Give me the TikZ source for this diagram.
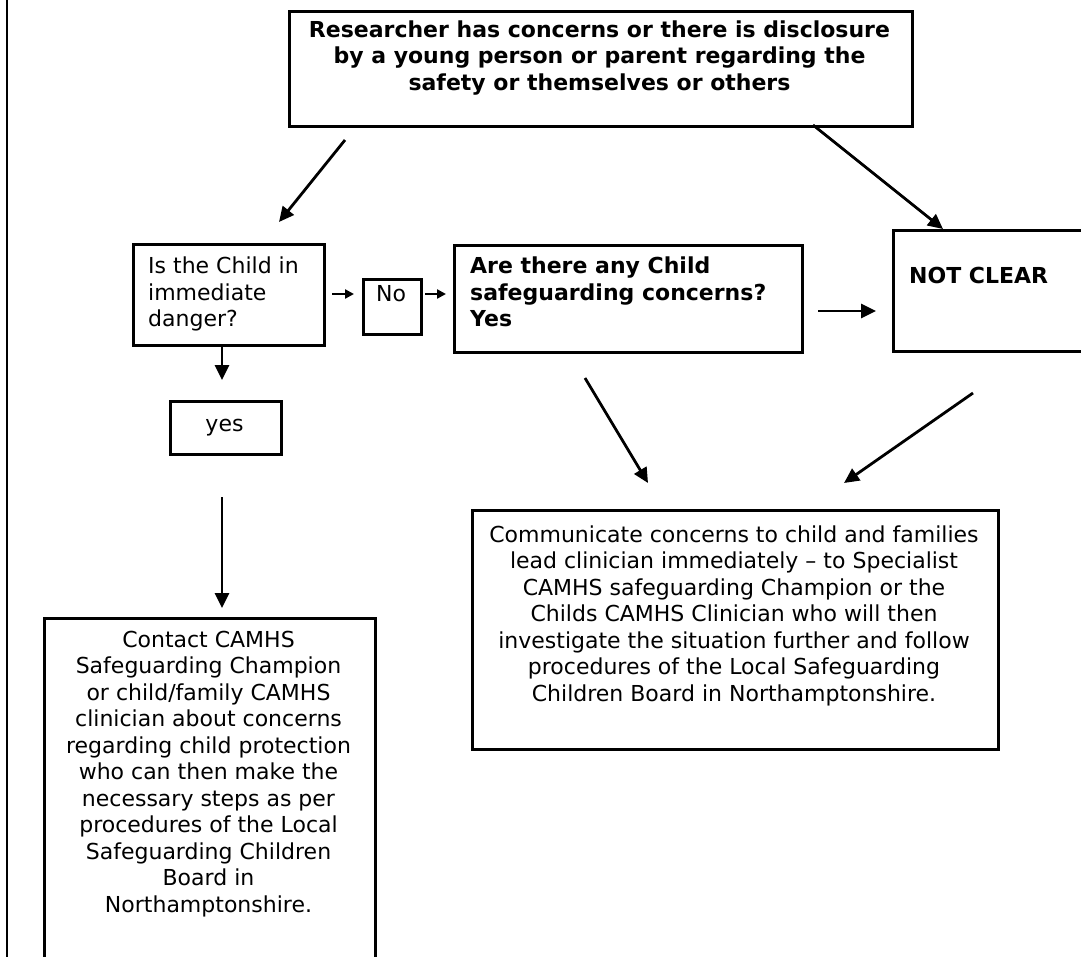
\documentclass[tikz,border=0pt]{standalone}
\usepackage{fontspec}
\setmainfont{DejaVu Sans}
\usetikzlibrary{arrows.meta}
\begin{document}
\begin{tikzpicture}[x=1pt,y=-1pt,
  box/.style={draw, line width=2.7pt, anchor=north west, inner sep=0pt},
  txt/.style={inner sep=0pt, font=\fontsize{22}{26.5}\selectfont},
  btxt/.style={inner sep=0pt, font=\fontsize{22}{26.5}\selectfont\bfseries},
  flow/.style={line width=2.8pt, -{Triangle[length=15pt,width=14pt]}},
  hop/.style={line width=2.6pt, -{Triangle[length=9pt,width=9pt]}}]

\useasboundingbox (0,0) rectangle (1081,956);
\clip (0,0) rectangle (1081,956);

% page rule on the left
\draw[line width=2.6pt] (7,-5) -- (7,965);

% boxes
\node[box, minimum width=623pt, minimum height=115pt] (top) at (288,10) {};
\node[btxt, align=center, anchor=north] (toptxt) at (599.5,20.5)
  {Researcher has concerns or there is disclosure\\
   by a young person or parent regarding the\\
   safety or themselves or others};

\node[box, minimum width=191pt, minimum height=101pt] (danger) at (132,243) {};
\node[txt, align=left, anchor=north west] (dangertxt) at (148,257)
  {Is the Child in\\ immediate\\ danger?};

\node[box, minimum width=58pt, minimum height=55pt] (no) at (362,278) {};
\node[txt, anchor=base] (notxt) at (391,301) {No};

\node[box, minimum width=348pt, minimum height=107pt] (concern) at (453,244) {};
\node[btxt, align=left, anchor=north west] (concerntxt) at (470,257)
  {Are there any Child\\ safeguarding concerns?\\ Yes};

\node[box, minimum width=230pt, minimum height=121pt] (unclear) at (892,229) {};
\node[btxt, anchor=base west] (uncleartxt) at (909,283) {NOT CLEAR};

\node[box, minimum width=111pt, minimum height=53pt] (yes) at (169,400) {};
\node[txt, anchor=base] (yestxt) at (224.5,431) {yes};

\node[box, minimum width=331pt, minimum height=380pt] (contact) at (43,617) {};
\node[txt, align=center, anchor=north] (contacttxt) at (208.5,630.5)
  {Contact CAMHS\\ Safeguarding Champion\\ or child/family CAMHS\\
   clinician about concerns\\ regarding child protection\\
   who can then make the\\ necessary steps as per\\
   procedures of the Local\\ Safeguarding Children\\ Board in\\
   Northamptonshire.};

\node[box, minimum width=526pt, minimum height=239pt] (inform) at (471,509) {};
\node[txt, align=center, anchor=north] (informtxt) at (734,525.5)
  {Communicate concerns to child and families\\
   lead clinician immediately – to Specialist\\
   CAMHS safeguarding Champion or the\\
   Childs CAMHS Clinician who will then\\
   investigate the situation further and follow\\
   procedures of the Local Safeguarding\\
   Children Board in Northamptonshire.};

% connector end points
\coordinate (t1) at (345,140);
\coordinate (d1) at (279,222);
\coordinate (t2) at (813,125);
\coordinate (u2) at (943,229);
\coordinate (d3) at (332,294);
\coordinate (n3) at (354,294);
\coordinate (n4) at (425,294);
\coordinate (c4) at (446,294);
\coordinate (c5) at (818,311);
\coordinate (u5) at (876,311);
\coordinate (y6) at (222,380);
\coordinate (y7) at (222,497);
\coordinate (k7) at (222,608);
\coordinate (c8) at (585,378);
\coordinate (i8) at (648,483);
\coordinate (u9) at (973,393);
\coordinate (i9) at (844,483);

% connectors
\draw[flow] (t1) -- (d1);
\draw[flow] (t2) -- (u2);
\draw[hop] (d3) -- (n3);
\draw[hop] (n4) -- (c4);
\draw[flow] (c5) -- (u5);
\draw[flow] (danger.south -| y6) -- (y6);
\draw[flow] (y7) -- (k7);
\draw[flow] (c8) -- (i8);
\draw[flow] (u9) -- (i9);
\end{tikzpicture}
\end{document}
